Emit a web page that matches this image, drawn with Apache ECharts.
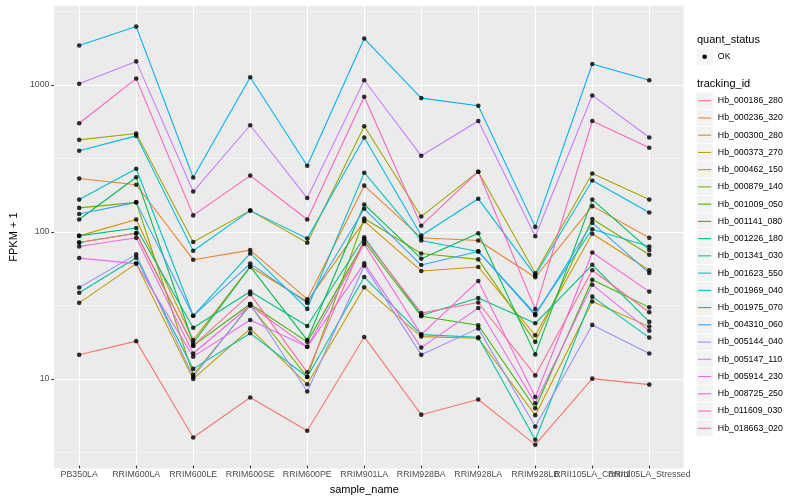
<!DOCTYPE html>
<html><head><meta charset="utf-8">
<script src="https://cdn.jsdelivr.net/npm/echarts@6/dist/echarts.min.js"></script>
<style>html,body{margin:0;padding:0;background:#fff}#c{width:800px;height:500px}</style>
</head><body><div id="c"></div>
<script>
// ---- categories / legend labels ----
const samples = ['PB350LA','RRIM600LA','RRIM600LE','RRIM600SE','RRIM600PE','RRIM901LA','RRIM928BA','RRIM928LA','RRIM928LB','RRII105LA_Control','RRII105LA_Stressed'];
const trackingIds = ['Hb_000186_280','Hb_000236_320','Hb_000300_280','Hb_000373_270','Hb_000462_150','Hb_000879_140','Hb_001009_050','Hb_001141_080','Hb_001226_180','Hb_001341_030','Hb_001623_550','Hb_001969_040','Hb_001975_070','Hb_004310_060','Hb_005144_040','Hb_005147_110','Hb_005914_230','Hb_008725_250','Hb_011609_030','Hb_018663_020'];
const quantStatus = ['OK'];
const colors = ['#F8766D','#EA8331','#D89000','#C09B00','#A3A500','#7CAE00','#39B600','#00BB4E','#00BF7D','#00C1A3','#00BFC4','#00BAE0','#00B0F6','#35A2FF','#9590FF','#C77CFF','#E76BF3','#FA62DB','#FF62BC','#FF6C91'];
const majorBreaks = [10, 100, 1000];
const minorBreaks = [3.1623, 31.623, 316.23, 3162.3];

// ---- FPKM + 1 values, one array per tracking_id (order = samples) ----
const Hb_000186_280 = [14.1, 17.5, 3.83, 7.20, 4.26, 18.7, 5.49, 6.97, 3.42, 9.69, 8.82];
const Hb_000236_320 = [227, 206, 63.2, 73.5, 33.9, 203, 89.2, 85.5, 47.9, 147, 89.2];
const Hb_000300_280 = [92.0, 119, 17.8, 56.6, 32.7, 116, 52.9, 56.3, 19.2, 95.1, 53.5];
const Hb_000373_270 = [32.0, 59.4, 9.65, 21.3, 8.86, 40.9, 18.8, 18.3, 5.45, 32.7, 22.0];
const Hb_000462_150 = [418, 462, 83.5, 137, 82.5, 518, 125, 253, 51.0, 246, 163];
const Hb_000879_140 = [143, 156, 10.3, 30.7, 9.95, 121, 69.7, 63.5, 17.3, 120, 68.3];
const Hb_001009_050 = [82.9, 95.8, 16.3, 31.4, 17.3, 83.8, 25.9, 22.5, 6.08, 46.1, 29.8];
const Hb_001141_080 = [119, 232, 17.0, 56.6, 17.8, 151, 64.2, 95.8, 14.2, 163, 73.7];
const Hb_001226_180 = [92.0, 104, 21.6, 38.3, 22.2, 90.0, 26.3, 34.5, 23.2, 58.3, 23.7];
const Hb_001341_030 = [37.5, 65.2, 11.3, 19.8, 9.95, 48.1, 19.4, 18.6, 3.70, 35.3, 18.5];
const Hb_001623_550 = [163, 265, 26.1, 69.7, 29.1, 249, 85.5, 72.0, 26.9, 102, 77.8];
const Hb_001969_040 = [352, 445, 72.8, 137, 88.2, 434, 92.5, 165, 49.4, 220, 133];
const Hb_001975_070 = [1851, 2492, 231, 1121, 278, 2065, 807, 716, 106, 1383, 1070];
const Hb_004310_060 = [130, 156, 26.1, 59.4, 31.9, 141, 58.1, 72.0, 26.3, 113, 51.2];
const Hb_005144_040 = [40.8, 68.7, 9.95, 31.4, 7.91, 57.4, 14.1, 21.4, 4.55, 22.6, 14.4];
const Hb_005147_110 = [1011, 1440, 185, 526, 167, 1070, 325, 563, 91.5, 842, 434];
const Hb_005914_230 = [64.8, 59.4, 13.7, 24.4, 16.0, 59.6, 15.8, 29.5, 6.58, 42.6, 20.6];
const Hb_008725_250 = [77.8, 89.2, 14.4, 30.7, 16.0, 80.9, 19.4, 45.2, 7.25, 70.8, 38.2];
const Hb_011609_030 = [543, 1098, 127, 238, 119, 825, 108, 253, 29.0, 563, 369];
const Hb_018663_020 = [82.9, 95.8, 16.3, 36.7, 10.7, 87.3, 27.3, 32.2, 10.2, 53.5, 27.6];

const fpkm = [Hb_000186_280, Hb_000236_320, Hb_000300_280, Hb_000373_270, Hb_000462_150,
  Hb_000879_140, Hb_001009_050, Hb_001141_080, Hb_001226_180, Hb_001341_030,
  Hb_001623_550, Hb_001969_040, Hb_001975_070, Hb_004310_060, Hb_005144_040,
  Hb_005147_110, Hb_005914_230, Hb_008725_250, Hb_011609_030, Hb_018663_020];

// ---- layout / style ----
const FONT = '"Liberation Sans", Arial, Helvetica, sans-serif';
const PANEL = { left: 45, top: 5.7, right: 683.5, bottom: 468.5 };
const panelW = PANEL.right - PANEL.left, panelH = PANEL.bottom - PANEL.top;
const unit = panelW / (samples.length - 1 + 1.2);
const KX = 696.5, KSTEP = 17.24, KSIZE = 16.3;
const KY = 100.7 - KSIZE / 2, OKY = 56.7 - KSIZE / 2;

const allVals = fpkm.flat();
const lo = Math.log10(Math.min(...allVals)), hi = Math.log10(Math.max(...allVals));
const pad = (hi - lo) * 0.05;
const yMin = Math.pow(10, lo - pad), yMax = Math.pow(10, hi + pad);

const lineSeries = trackingIds.map((id, i) => ({
  type: 'line', name: id, xAxisIndex: 1, yAxisIndex: 2,
  data: fpkm[i], showSymbol: false, symbol: 'none', silent: true,
  lineStyle: { color: colors[i], width: 1.07 }, itemStyle: { color: colors[i] },
  emphasis: { disabled: true }, z: 2
}));
const pointData = [];
fpkm.forEach(arr => arr.forEach((v, j) => pointData.push([samples[j], v])));

const legendCommon = {
  orient: 'vertical', left: KX, icon: 'rect', itemWidth: KSIZE, itemHeight: KSIZE,
  itemGap: KSTEP - KSIZE, padding: 0, selectedMode: false,
  itemStyle: { color: '#F2F2F2', borderWidth: 0 },
  textStyle: { fontSize: 8.8, color: '#000', fontFamily: FONT }
};

const keyGraphics = trackingIds.map((id, i) => ({
  type: 'line', z: 100, silent: true,
  shape: { x1: KX + 1.6, y1: KY + KSIZE / 2 + i * KSTEP, x2: KX + KSIZE - 1.6, y2: KY + KSIZE / 2 + i * KSTEP },
  style: { stroke: colors[i], lineWidth: 1.07 }
}));
keyGraphics.push({ type: 'circle', z: 100, silent: true,
  shape: { cx: KX + KSIZE / 2, cy: OKY + KSIZE / 2, r: 2.3 }, style: { fill: '#000' } });

const option = {
  animation: false,
  backgroundColor: '#fff',
  textStyle: { fontFamily: FONT },
  title: [
    { text: 'quant_status', left: KX + 0.5, top: 34.5, padding: 0, textStyle: { fontSize: 11, fontWeight: 'normal', color: '#000', fontFamily: FONT } },
    { text: 'tracking_id', left: KX + 0.5, top: 78, padding: 0, textStyle: { fontSize: 11, fontWeight: 'normal', color: '#000', fontFamily: FONT } }
  ],
  grid: [
    { left: PANEL.left, top: PANEL.top, width: panelW, height: panelH, show: true, backgroundColor: '#EBEBEB', borderWidth: 0 },
    { left: PANEL.left + 0.6 * unit, top: PANEL.top, width: unit * (samples.length - 1), height: panelH, show: false }
  ],
  xAxis: [
    { gridIndex: 0, type: 'value', min: 0, max: 1, show: false },
    { gridIndex: 1, type: 'category', data: samples, boundaryGap: false,
      axisLine: { show: false },
      axisTick: { show: true, interval: 0, length: 2.75, lineStyle: { color: '#333333', width: 1.07 } },
      axisLabel: { interval: 0, hideOverlap: false, margin: 4.5, fontSize: 8.8, color: '#4D4D4D', fontFamily: FONT },
      splitLine: { show: true, interval: 0, lineStyle: { color: '#FFFFFF', width: 1.07 } },
      name: 'sample_name', nameLocation: 'middle', nameGap: 16,
      nameTextStyle: { fontSize: 11, color: '#000', fontFamily: FONT } }
  ],
  yAxis: [
    { gridIndex: 0, type: 'log', logBase: 10, min: yMin, max: yMax,
      axisLine: { show: false },
      axisTick: { show: true, length: 2.75, customValues: majorBreaks, lineStyle: { color: '#333333', width: 1.07 } },
      axisLabel: { customValues: majorBreaks, fontSize: 8.8, color: '#4D4D4D', margin: 4.5, fontFamily: FONT, formatter: v => String(Math.round(v)) },
      splitLine: { show: true, lineStyle: { color: '#FFFFFF', width: 1.07 } },
      name: 'FPKM + 1', nameLocation: 'middle', nameGap: 27,
      nameTextStyle: { fontSize: 11, color: '#000', fontFamily: FONT } },
    { gridIndex: 0, type: 'log', logBase: 10, min: yMin, max: yMax, position: 'left',
      axisLine: { show: false }, axisTick: { show: false, customValues: minorBreaks },
      axisLabel: { show: false, customValues: minorBreaks },
      splitLine: { show: true, lineStyle: { color: '#FFFFFF', width: 0.53 } } },
    { gridIndex: 1, type: 'log', logBase: 10, min: yMin, max: yMax, show: false }
  ],
  legend: [
    Object.assign({}, legendCommon, { top: OKY, data: quantStatus }),
    Object.assign({}, legendCommon, { top: KY, data: trackingIds })
  ],
  graphic: { elements: keyGraphics },
  series: lineSeries.concat([{
    type: 'scatter', name: 'OK', xAxisIndex: 1, yAxisIndex: 2, data: pointData,
    symbol: 'circle', symbolSize: 4.6, silent: true, itemStyle: { color: '#000' }, z: 3
  }])
};
echarts.init(document.getElementById('c'), null, { renderer: 'canvas' }).setOption(option);
</script></body></html>
